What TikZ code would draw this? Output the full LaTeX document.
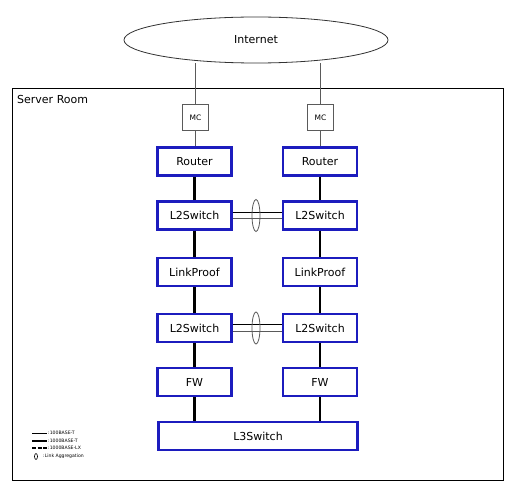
\documentclass[tikz,border=0pt]{standalone}
\usepackage{fontspec}
\setmainfont{DejaVu Sans}
\usetikzlibrary{shapes.geometric}
\definecolor{boxblue}{RGB}{28,28,190}
\definecolor{thingray}{RGB}{90,90,90}
\begin{document}
\begin{tikzpicture}[x=1pt,y=-1pt,
  dev/.style={draw=boxblue,line width=2.2pt,fill=white,rectangle,minimum height=28pt,inner sep=0pt,font=\fontsize{11}{13}\selectfont},
  mcbox/.style={draw=thingray,line width=1.2pt,fill=white,rectangle,minimum width=26pt,minimum height=26pt,inner sep=0pt,font=\fontsize{7.5}{8}\selectfont},
  gig/.style={line width=2.6pt,black},
  fast/.style={line width=0.8pt,thingray},
  aggline/.style={line width=0.8pt},
  agg/.style={draw=thingray,line width=0.8pt,ellipse,minimum width=8pt,minimum height=32pt,inner sep=0pt},
  legtext/.style={anchor=west,inner sep=0pt,font=\fontsize{4.6}{5}\selectfont}]
\useasboundingbox (0,0) rectangle (517,492);
\fill[white] (0,0) rectangle (517,492);
% server room
\draw[line width=1pt] (12.5,88.5) rectangle (503.5,480.5);
\node[anchor=north west,inner sep=0pt,font=\fontsize{11}{13}\selectfont] (room) at (17,95) {Server Room};
% internet
\node[draw=black!80,line width=0.8pt,ellipse,minimum width=264pt,minimum height=46pt,inner sep=0pt,font=\fontsize{11}{13}\selectfont] (inet) at (256,40) {Internet};
% columns
\node[mcbox] (mca) at (195.5,117.5) {MC};
\node[mcbox] (mcb) at (320.5,117.5) {MC};
\node[dev,minimum width=74pt] (ra) at (194.5,161.5) {Router};
\node[dev,minimum width=74pt] (rb) at (320,161.5) {Router};
\node[dev,minimum width=74pt] (sa) at (194.5,215.5) {L2Switch};
\node[dev,minimum width=74pt] (sb) at (320,215.5) {L2Switch};
\node[dev,minimum width=74pt] (pa) at (194.5,272) {LinkProof};
\node[dev,minimum width=74pt] (pb) at (320,272) {LinkProof};
\node[dev,minimum width=74pt] (ta) at (194.5,328) {L2Switch};
\node[dev,minimum width=74pt] (tb) at (320,328) {L2Switch};
\node[dev,minimum width=74pt] (fa) at (194.5,382) {FW};
\node[dev,minimum width=74pt] (fb) at (320,382) {FW};
\node[dev,minimum width=199pt] (l3) at (258,436) {L3Switch};
% thin links
\draw[fast] (inet.south -| mca) -- (mca);
\draw[fast] (inet.south -| mcb) -- (mcb);
\draw[fast] (mca.south) -- (ra.north -| mca.south);
\draw[fast] (mcb.south) -- (rb.north -| mcb.south);
% thick links
\draw[gig] (ra) -- (sa);
\draw[gig] (sa) -- (pa);
\draw[gig] (pa) -- (ta);
\draw[gig] (ta) -- (fa);
\draw[gig] (fa.south) -- (l3.north -| fa.south);
\draw[gig] (rb) -- (sb);
\draw[gig] (sb) -- (pb);
\draw[gig] (pb) -- (tb);
\draw[gig] (tb) -- (fb);
\draw[gig] (fb.south) -- (l3.north -| fb.south);
% link aggregation
\draw[aggline,thingray] ([yshift=-3pt]sa.east) -- ([yshift=-3pt]sb.west);
\draw[aggline,black] ([yshift=3pt]sa.east) -- ([yshift=3pt]sb.west);
\node[agg] (agg1) at (256,215.5) {};
\draw[aggline,thingray] ([yshift=-3.5pt]ta.east) -- ([yshift=-3.5pt]tb.west);
\draw[aggline,black] ([yshift=3.5pt]ta.east) -- ([yshift=3.5pt]tb.west);
\node[agg] (agg2) at (256,328) {};
% legend
\coordinate (la1) at (32,433); \coordinate (lb1) at (47,433);
\coordinate (la2) at (32,440.5); \coordinate (lb2) at (47,440.5);
\coordinate (la3) at (32,448); \coordinate (lb3) at (47,448);
\draw[line width=0.7pt] (la1) -- (lb1);
\draw[line width=2pt] (la2) -- (lb2);
\draw[line width=2pt,dash pattern=on 4pt off 1.5pt] (la3) -- (lb3);
\node[draw,line width=0.6pt,ellipse,minimum width=3pt,minimum height=6pt,inner sep=0pt] (lagg) at (36,456.5) {};
\node[legtext] (t1) at (48,433) {:100BASE-T};
\node[legtext] (t2) at (48,440.5) {:1000BASE-T};
\node[legtext] (t3) at (48,448) {:1000BASE-LX};
\node[legtext] (t4) at (43,456.5) {:Link Aggregation};
\end{tikzpicture}
\end{document}
